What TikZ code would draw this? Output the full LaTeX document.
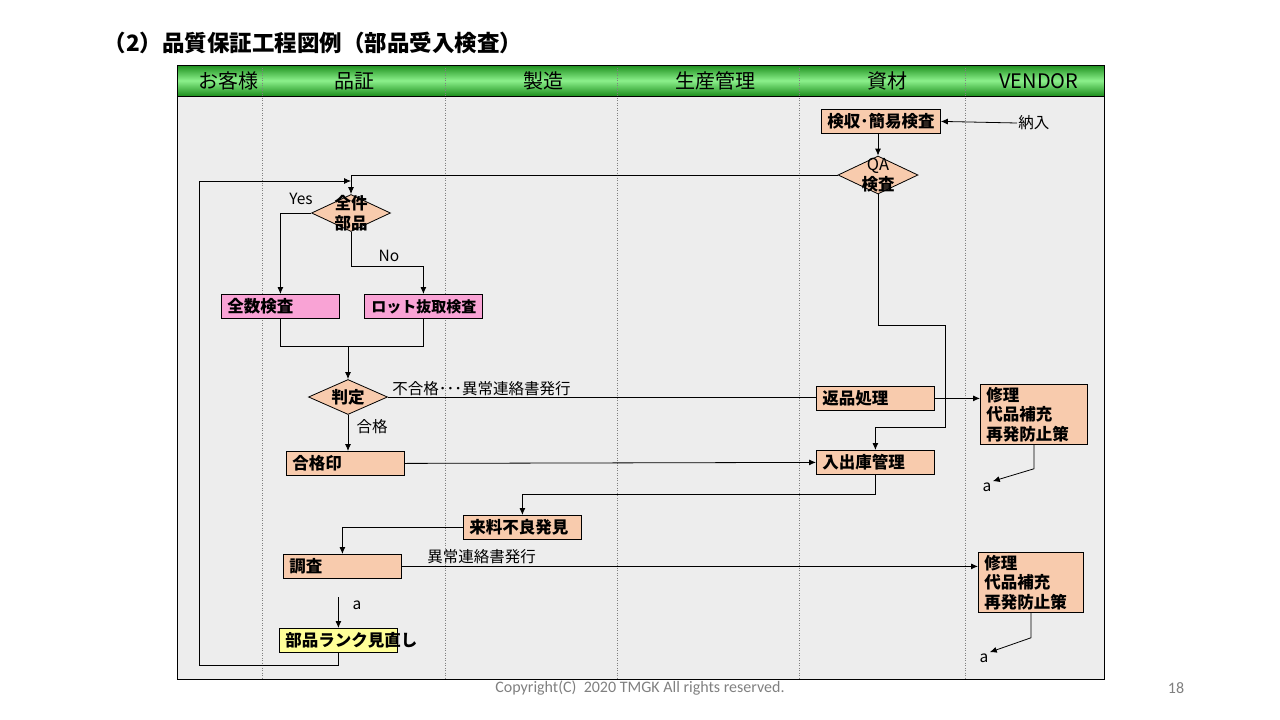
\documentclass[tikz,border=0pt]{standalone}
\usepackage{fontspec}
\setmainfont{Noto Sans CJK JP}
\newfontfamily\cali{Carlito}
\usetikzlibrary{shapes.geometric,arrows.meta}
\definecolor{peach}{HTML}{F8CBAD}
\definecolor{pinkbox}{HTML}{F9A3D5}
\definecolor{yelbox}{HTML}{FFFF99}
\definecolor{bgray}{HTML}{EDEDED}
\definecolor{hdark}{HTML}{1C8E1C}
\definecolor{hlight}{HTML}{8CF08C}
\newcommand{\bx}{\fontsize{16.5}{19.5}\selectfont\bfseries}
\newcommand{\lb}{\fontsize{15.5}{17}\selectfont}

\begin{document}
\begin{tikzpicture}[x=1pt,y=-1pt,>={Latex[length=7pt,width=6pt]},line width=0.8pt,
  box/.style={draw,fill=peach,anchor=north west,minimum width=118pt,minimum height=24pt,
    text width=106pt,inner xsep=6pt,inner ysep=0pt,align=left,font=\bx},
  rep/.style={box,minimum width=107pt,text width=95pt,minimum height=60pt},
  dia/.style={diamond,draw,fill=peach,minimum width=80pt,minimum height=38pt,inner sep=0pt},
  dtxt/.style={align=center,font=\bx,inner sep=0pt},
  lbl/.style={font=\lb,inner sep=1pt},
  hd/.style={font=\fontsize{20}{22}\selectfont}]
\useasboundingbox (0,0) rectangle (1280,720);
\node[anchor=west,font=\fontsize{22.5}{24}\selectfont\bfseries] (title) at (100,43) {（2）品質保証工程図例（部品受入検査）};
\fill[bgray] (177,96) rectangle (1104,679);
\shade[top color=hdark,bottom color=hdark,middle color=hlight] (177,65) rectangle (1104,96);
\foreach \x in {262,445,617,799,965} \draw[dotted,gray,line width=0.5pt] (\x,65) -- (\x,679);
\draw (177,65) rectangle (1104,679);
\draw (177,96) -- (1104,96);
\foreach \x/\t in {228/お客様,354/品証,543/製造,715/生産管理,887/資材,1039/VENDOR}
  \node[hd] (h\x) at (\x,81) {\t};

\node[box,minimum width=119pt,text width=107pt] (kenshu) at (821,109) {\mbox{検収･簡易検査}};
\node[lbl,anchor=west] (nonyu) at (1017,123) {納入};
\node[dia,label={[dtxt]center:{\mdseries QA}\\検査}] (qa) at (878,175) {};
\node[dia,minimum width=79pt,minimum height=37pt,label={[dtxt]center:全件\\部品}] (zenken) at (351,213) {};
\node[box,fill=pinkbox] (zensu) at (221,294) {全数検査};
\node[box,fill=pinkbox,font=\fontsize{15}{18}\selectfont\bfseries,inner xsep=7pt,text width=104pt] (lot) at (364,294) {\mbox{ロット抜取検査}};
\node[dia,minimum width=79pt,minimum height=35pt,label={[dtxt]center:判定}] (hantei) at (348,397) {};
\node[box] (henpin) at (816,386) {返品処理};
\node[rep] (repair1) at (980,384) {修理\\代品補充\\再発防止策};
\node[box] (gokakuin) at (286,451) {合格印};
\node[box] (nyushuko) at (816,450) {入出庫管理};
\node[box] (rairyo) at (463,515) {来料不良発見};
\node[box] (chosa) at (283,554) {調査};
\node[rep,minimum width=105pt,text width=93pt] (repair2) at (978,552) {修理\\代品補充\\再発防止策};
\node[box,fill=yelbox] (rank) at (279,628) {\mbox{部品ランク見直し}};

\node[lbl] (yes) at (301,199) {Yes};
\node[lbl] (no) at (389,256) {No};
\node[lbl,anchor=west] (fugokaku) at (391,389) {不合格･･･異常連絡書発行};
\node[lbl] (gokaku) at (372,427) {合格};
\node[lbl,anchor=west] (ijo) at (426,557) {異常連絡書発行};
\node[lbl] (a1) at (987,487) {a};
\node[lbl] (a2) at (984,658) {a};
\node[lbl] (a3) at (357,605) {a};
\coordinate (back) at (351,181);

\draw[->] (nonyu.west) -- (kenshu.east);
\draw[->] (kenshu.south -| qa.north) -- (qa.north);
\draw[->] (qa.west) -| (zenken.north);
\draw[->] (zenken.west) -| (zensu.north);
\draw[->] (zenken.south) -- ++(0,34) -| (lot.north);
\draw (zensu.south) -- ++(0,28) -| (lot.south);
\draw[->] (hantei.north |- 0,347) -- (hantei.north);
\draw (hantei.east) -- (hantei.east -| henpin.west);
\draw[->] (henpin.east) -- (henpin.east -| repair1.west);
\draw[->] (qa.south) |- (945,325) -- (945,427) -| (nyushuko.north);
\draw[->] (hantei.south) -- (hantei.south |- gokakuin.north);
\draw[->] (gokakuin.east) -- (nyushuko.west);
\draw[->] (nyushuko.south) -- ++(0,20) -| (rairyo.north);
\draw[->] (rairyo.west) -| (chosa.north);
\draw[->] (chosa.east) -- (chosa.east -| repair2.west);
\draw[->] (repair1.south) -- ++(0,24) -- (a1.north east);
\draw[->] (repair2.south) -- ++(0,25) -- (a2.north east);
\draw[->] ([yshift=31pt]rank.north) -- (rank.north);
\draw[->] (rank.south) -- ++(0,13) -| (199,181) -- (back);

\node[font=\cali\fontsize{16}{18}\selectfont,text=gray] (copy) at (640,688) {Copyright(C)\ \ 2020 TMGK All rights reserved.};
\node[font=\cali\fontsize{16}{18}\selectfont,text=gray] (page) at (1176,688) {18};
\end{tikzpicture}
\end{document}
